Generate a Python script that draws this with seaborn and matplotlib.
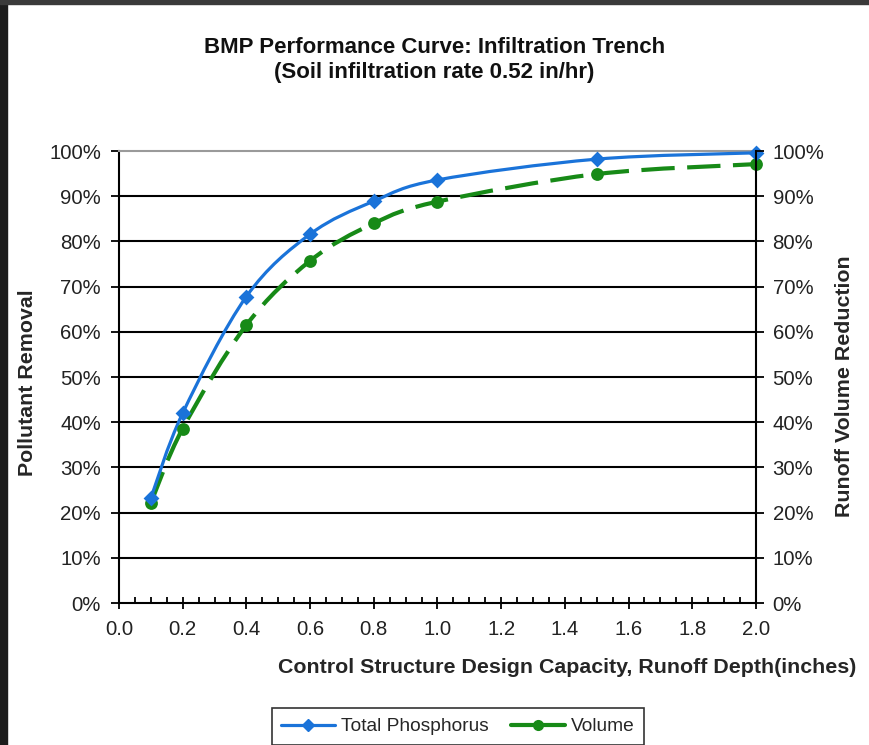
import numpy as np
import pandas as pd
import matplotlib
matplotlib.use("Agg")
import matplotlib.pyplot as plt
from matplotlib.path import Path
from matplotlib.patches import PathPatch, Rectangle
from matplotlib.lines import Line2D
from matplotlib.ticker import PercentFormatter, MultipleLocator, FormatStrFormatter
import seaborn as sns

# design capacity (runoff depth, inches)
depth = [0.1, 0.2, 0.4, 0.6, 0.8, 1.0, 1.5, 2.0]
# total phosphorus removal
tp_removal = [0.232, 0.420, 0.678, 0.816, 0.889, 0.936, 0.982, 0.996]
# runoff volume reduction
vol_reduction = [0.221, 0.386, 0.615, 0.757, 0.840, 0.888, 0.949, 0.971]

title = "BMP Performance Curve: Infiltration Trench\n(Soil infiltration rate 0.52 in/hr)"
xlabel = "Control Structure Design Capacity, Runoff Depth(inches)"
ylabel_left = "Pollutant Removal"
ylabel_right = "Runoff Volume Reduction"

BLUE = "#1a73d9"
GREEN = "#178a17"

sns.set_theme(style="white")
plt.rcParams["font.family"] = ["Liberation Sans", "DejaVu Sans"]


def smooth_path(xs, ys):
    # Excel-style smoothed line: cubic bezier segments through the points
    pts = np.column_stack([xs, ys])
    ext = np.vstack([pts[0], pts, pts[-1]])
    verts = [tuple(pts[0])]
    codes = [Path.MOVETO]
    for i in range(1, len(ext) - 2):
        p0, p1, p2, p3 = ext[i - 1], ext[i], ext[i + 1], ext[i + 2]
        c1 = p1 + (p2 - p0) / 6.0
        c2 = p2 - (p3 - p1) / 6.0
        verts += [tuple(c1), tuple(c2), tuple(p2)]
        codes += [Path.CURVE4] * 3
    return Path(verts, codes)


df = pd.DataFrame({"depth": depth, "tp": tp_removal, "vol": vol_reduction})

fig = plt.figure(figsize=(8.69, 7.45), dpi=100)
fig.patch.set_facecolor("white")
ax = fig.add_axes([0.1369, 0.1906, 0.733, 0.6067])

# horizontal gridlines
for yv in np.arange(0.1, 0.95, 0.1):
    ax.axhline(yv, color="black", lw=1.5, zorder=1)

ax.add_patch(PathPatch(smooth_path(depth, vol_reduction), fill=False, edgecolor=GREEN,
                       lw=3.0, linestyle=(0, (8, 3)), capstyle="butt", zorder=3))
ax.add_patch(PathPatch(smooth_path(depth, tp_removal), fill=False, edgecolor=BLUE,
                       lw=2.3, zorder=4))
sns.scatterplot(data=df, x="depth", y="vol", ax=ax, color=GREEN, marker="o", s=85,
                edgecolor=GREEN, linewidth=0, zorder=5, clip_on=False)
sns.scatterplot(data=df, x="depth", y="tp", ax=ax, color=BLUE, marker="D", s=65,
                edgecolor=BLUE, linewidth=0, zorder=6, clip_on=False)

ax.set_xlim(0, 2.0)
ax.set_ylim(0, 1.0)
ax.xaxis.set_major_locator(MultipleLocator(0.2))
ax.xaxis.set_minor_locator(MultipleLocator(0.05))
ax.yaxis.set_major_locator(MultipleLocator(0.1))
ax.yaxis.set_major_formatter(PercentFormatter(1.0, decimals=0))
ax.xaxis.set_major_formatter(FormatStrFormatter("%.1f"))

for side in ["left", "bottom"]:
    ax.spines[side].set_color("black")
    ax.spines[side].set_linewidth(1.5)
ax.spines["right"].set_visible(False)
ax.spines["top"].set_color("#9a9a9a")
ax.spines["top"].set_linewidth(1.5)

TICK_FS = 14.7
LABEL_FS = 15.4
ax.tick_params(axis="y", which="major", direction="out", length=6, width=1.3,
               color="black", left=True, labelsize=TICK_FS, labelcolor="#222222", pad=7)
ax.tick_params(axis="x", which="major", direction="inout", length=8, width=1.3,
               color="black", bottom=True, labelsize=TICK_FS, labelcolor="#222222", pad=8)
ax.tick_params(axis="x", which="minor", direction="in", length=4, width=1.3,
               color="black", bottom=True)

ax.set_xlabel(xlabel, fontsize=LABEL_FS, fontweight="bold")
ax.xaxis.set_label_coords(0.703, -0.122)
ax.set_ylabel(ylabel_left, fontsize=LABEL_FS, fontweight="bold")
ax.yaxis.set_label_coords(-0.128, 0.487)

ax2 = ax.twinx()
ax2.set_ylim(0, 1.0)
ax2.yaxis.set_major_locator(MultipleLocator(0.1))
ax2.yaxis.set_major_formatter(PercentFormatter(1.0, decimals=0))
for side in ["left", "bottom", "top"]:
    ax2.spines[side].set_visible(False)
ax2.spines["right"].set_color("black")
ax2.spines["right"].set_linewidth(1.5)
ax2.tick_params(axis="y", which="major", direction="out", length=6, width=1.3,
                color="black", right=True, labelsize=TICK_FS, labelcolor="#222222", pad=6)
ax2.set_ylabel(ylabel_right, fontsize=LABEL_FS, fontweight="bold")
ax2.yaxis.set_label_coords(1.124, 0.48)

fig.text(0.5, 0.919, title, ha="center", va="center", fontsize=16,
         fontweight="bold", linespacing=1.25, color="#111111")

handles = [
    Line2D([], [], color=BLUE, lw=2.3, marker="D", markersize=6, label="Total Phosphorus"),
    Line2D([], [], color=GREEN, lw=3.0, marker="o", markersize=7, label="Volume"),
]
leg = fig.legend(handles=handles, loc="upper center", bbox_to_anchor=(0.527, 0.049),
                 ncol=2, frameon=True, fontsize=13.8, handlelength=2.8,
                 handletextpad=0.3, columnspacing=1.2, borderpad=0.5,
                 borderaxespad=0, fancybox=False)
leg.get_frame().set_edgecolor("black")
leg.get_frame().set_linewidth(1.2)

# dark screenshot frame
fig.patches.append(Rectangle((0, 0), 7 / 869, 1, transform=fig.transFigure,
                             color="#1c1c1c", zorder=10))
fig.patches.append(Rectangle((0, 1 - 4 / 745), 1, 4 / 745, transform=fig.transFigure,
                             color="#3a3a3a", zorder=10))

fig.savefig("out.png", dpi=100)
plt.close(fig)
